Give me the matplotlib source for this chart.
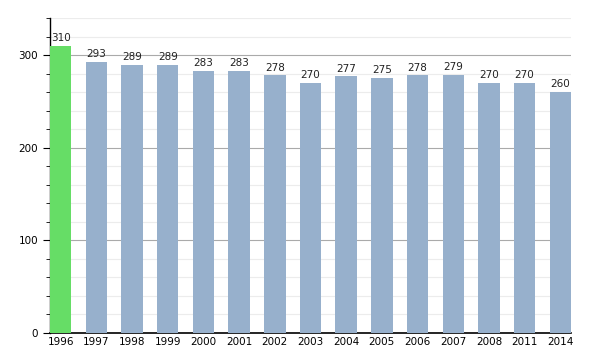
import matplotlib

matplotlib.use("Agg")
import matplotlib.pyplot as plt
import numpy as np
from matplotlib.ticker import MultipleLocator

years = ["1996", "1997", "1998", "1999", "2000", "2001", "2002", "2003",
         "2004", "2005", "2006", "2007", "2008", "2011", "2014"]
population = [310, 293, 289, 289, 283, 283, 278, 270, 277, 275, 278, 279, 270, 270, 260]
highlight = "1996"

GREEN = "#66dd66"
BLUE = "#97b0cc"
BAR_W = 0.6

fig = plt.figure(figsize=(6.0, 3.5), dpi=100)
ax = fig.add_axes([50 / 600, 17 / 350, 521 / 600, 315 / 350])

x = np.arange(len(years))
colors = [GREEN if y == highlight else BLUE for y in years]
bars = ax.bar(x, population, width=BAR_W, align="edge", color=colors, zorder=3)

for b, v in zip(bars, population):
    ax.annotate(str(v), (b.get_x() + b.get_width() / 2, v), textcoords="offset points",
                xytext=(0, 2), ha="center", va="bottom", fontsize=7.5, color="#222222",
                zorder=4)

ax.set_xlim(0, len(years) - 1 + BAR_W)
ax.set_ylim(0, 340)
ax.set_xticks(x + BAR_W / 2)
ax.set_xticklabels(years, fontsize=7.5)
ax.tick_params(axis="x", length=0, pad=3)

ax.yaxis.set_major_locator(MultipleLocator(100))
ax.yaxis.set_minor_locator(MultipleLocator(20))
ax.tick_params(axis="y", which="major", length=5, labelsize=7.5, width=0.8)
ax.tick_params(axis="y", which="minor", length=3, width=0.6)
ax.grid(axis="y", which="major", color="#aaaaaa", lw=0.8, zorder=0)
ax.grid(axis="y", which="minor", color="#ececec", lw=0.8, zorder=0)

for side in ["top", "right"]:
    ax.spines[side].set_visible(False)
ax.spines["left"].set_linewidth(1.0)
ax.spines["bottom"].set_linewidth(1.2)

fig.savefig("out.png", dpi=100)
